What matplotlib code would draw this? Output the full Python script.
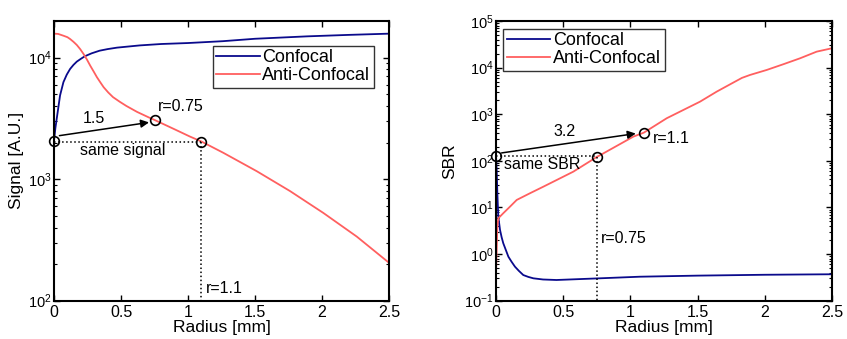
import matplotlib
matplotlib.use("Agg")
import matplotlib.pyplot as plt

plt.rcParams['font.family'] = ['Liberation Sans', 'DejaVu Sans']
plt.rcParams['mathtext.fontset'] = 'custom'
plt.rcParams['mathtext.rm'] = 'Liberation Sans'
plt.rcParams['mathtext.it'] = 'Liberation Sans:italic'
plt.rcParams['mathtext.bf'] = 'Liberation Sans:bold'

# ---- Left panel: Signal vs radius ----
sig_conf_r = [0, 0.01, 0.02, 0.045, 0.07, 0.095, 0.12, 0.145, 0.17, 0.2, 0.23, 0.28, 0.34, 0.4,
              0.47, 0.64, 0.8, 1.0, 1.26, 1.5, 1.89, 2.2, 2.5]
sig_conf = [2075, 2630, 3140, 4890, 6280, 7244, 8070, 8710, 9270, 9770, 10260, 10840, 11400, 11750,
            12080, 12600, 12940, 13180, 13650, 14290, 14960, 15380, 15740]

sig_anti_r = [0, 0.03, 0.07, 0.1, 0.12, 0.145, 0.17, 0.195, 0.22, 0.245, 0.27, 0.295, 0.32, 0.345,
              0.37, 0.405, 0.44, 0.49, 0.54, 0.62, 0.71, 0.75, 0.9, 1.015, 1.1, 1.263, 1.512,
              1.761, 2.01, 2.259, 2.5]
sig_anti = [15740, 15670, 15140, 14720, 14220, 13490, 12700, 11750, 10720, 9660, 8590, 7710, 6900, 6270,
            5710, 5160, 4730, 4335, 4000, 3573, 3210, 3070, 2570, 2239, 2040, 1648, 1164,
            798, 527, 337, 205]

# ---- Right panel: SBR vs radius ----
sbr_conf_r = [0, 0.005, 0.01, 0.017, 0.03, 0.042, 0.054, 0.092, 0.115, 0.141, 0.17, 0.203, 0.24,
              0.278, 0.35, 0.45, 0.77, 1.07, 1.5, 2.0, 2.5]
sbr_conf = [128, 63.8, 20.2, 6.35, 3.29, 2.29, 1.71, 0.88, 0.69, 0.537, 0.437, 0.355, 0.324,
            0.302, 0.285, 0.278, 0.302, 0.327, 0.345, 0.36, 0.369]

sbr_anti_r = [0, 0.005, 0.01, 0.017, 0.054, 0.104, 0.154, 0.253, 0.352, 0.452, 0.575, 0.699, 0.75,
              0.774, 1.022, 1.1, 1.27, 1.518, 1.642, 1.766, 1.83, 1.89, 2.014, 2.138, 2.262, 2.386, 2.5]
sbr_anti = [0.39, 1.22, 3.87, 5.86, 7.52, 10.4, 14.5, 20.2, 27.9, 38.9, 58.6, 98, 122,
            132, 331, 403, 820, 1862, 3055, 4786, 6026, 6966, 8913, 11830, 15850, 22030, 26060]

# annotation points
left_pts_r = [0, 0.75, 1.1]
left_pts_v = [2075, 3070, 2040]
right_pts_r = [0, 0.75, 1.1]
right_pts_v = [128, 122, 403]

xticks = [0, 0.5, 1, 1.5, 2, 2.5]
xtick_labels = ['0', '0.5', '1', '1.5', '2', '2.5']

BLUE = '#0a0a8c'
RED = '#ff5f5f'
TXT = 11.5

fig = plt.figure(figsize=(8.47, 3.39), dpi=100)
ax1 = fig.add_axes([0.0638, 0.113, 0.3955, 0.825])
ax2 = fig.add_axes([0.5856, 0.113, 0.3967, 0.825])

def style(ax):
    ax.set_xlim(0, 2.5)
    ax.set_yscale('log')
    ax.set_xticks(xticks)
    ax.set_xticklabels(xtick_labels)
    ax.tick_params(which='both', direction='in', top=True, right=True)
    ax.tick_params(axis='x', labelsize=11.5, pad=3)
    ax.tick_params(axis='y', labelsize=10.5, pad=1.5)
    ax.tick_params(which='major', length=4, width=1)
    ax.tick_params(which='minor', length=2.5, width=0.8)
    for s in ax.spines.values():
        s.set_linewidth(1.5)
    ax.set_xlabel('Radius [mm]', fontsize=12.5, labelpad=0)
    ax.xaxis.get_offset_text().set_visible(False)
    ax.yaxis.get_offset_text().set_visible(False)

def legend(ax, loc, anchor):
    leg = ax.legend(loc=loc, bbox_to_anchor=anchor, fontsize=13,
                    frameon=True, fancybox=False, edgecolor='k', handlelength=2.4,
                    borderpad=0.2, labelspacing=0.05, handletextpad=0.15, borderaxespad=0)
    leg.get_frame().set_linewidth(1.0)
    return leg

# Left
ax1.plot(sig_conf_r, sig_conf, color=BLUE, lw=1.3, label='Confocal')
ax1.plot(sig_anti_r, sig_anti, color=RED, lw=1.3, label='Anti-Confocal')
ax1.set_ylim(100, 2e4)
style(ax1)
ax1.set_ylabel('Signal [A.U.]', fontsize=12.5)
ax1.yaxis.set_label_coords(-0.091, 0.5)
ax1.plot([0, 1.1], [left_pts_v[2], left_pts_v[2]], color='k', ls=':', lw=1.1)
ax1.plot([1.1, 1.1], [left_pts_v[2], 100], color='k', ls=':', lw=1.1)
ax1.plot(left_pts_r, left_pts_v, 'o', mfc='none', mec='k', ms=7, mew=1.2, clip_on=False, zorder=5)
ax1.annotate('', xy=(0.709, 2930), xytext=(0.04, 2280),
             arrowprops=dict(arrowstyle='-|>', color='k', lw=1.1, mutation_scale=12, shrinkA=0, shrinkB=0))
ax1.text(0.30, 3140, '1.5', fontsize=TXT, ha='center', va='center')
ax1.text(0.776, 3950, 'r=0.75', fontsize=TXT, ha='left', va='center')
ax1.text(0.194, 1718, 'same signal', fontsize=TXT, ha='left', va='center')
ax1.text(1.132, 126, 'r=1.1', fontsize=TXT, ha='left', va='center')
legend(ax1, 'upper right', (0.955, 0.912))

# Right
ax2.plot(sbr_conf_r, sbr_conf, color=BLUE, lw=1.3, label='Confocal')
ax2.plot(sbr_anti_r, sbr_anti, color=RED, lw=1.3, label='Anti-Confocal')
ax2.set_ylim(0.1, 1e5)
style(ax2)
ax2.set_ylabel('SBR', fontsize=12.5)
ax2.yaxis.set_label_coords(-0.116, 0.5)
ax2.plot([0, 0.75], [right_pts_v[0], right_pts_v[0]], color='k', ls=':', lw=1.1)
ax2.plot([0.75, 0.75], [right_pts_v[1], 0.1], color='k', ls=':', lw=1.1)
ax2.plot(right_pts_r, right_pts_v, 'o', mfc='none', mec='k', ms=7, mew=1.2, clip_on=False, zorder=5)
ax2.annotate('', xy=(1.04, 385), xytext=(0.042, 148),
             arrowprops=dict(arrowstyle='-|>', color='k', lw=1.1, mutation_scale=12, shrinkA=0, shrinkB=0))
ax2.text(0.508, 418, '3.2', fontsize=TXT, ha='center', va='center')
ax2.text(1.17, 300, 'r=1.1', fontsize=TXT, ha='left', va='center')
ax2.text(0.06, 84, 'same SBR', fontsize=TXT, ha='left', va='center')
ax2.text(0.78, 2.17, 'r=0.75', fontsize=TXT, ha='left', va='center')
legend(ax2, 'upper left', (0.022, 0.972))

fig.savefig('out.png', dpi=100)
